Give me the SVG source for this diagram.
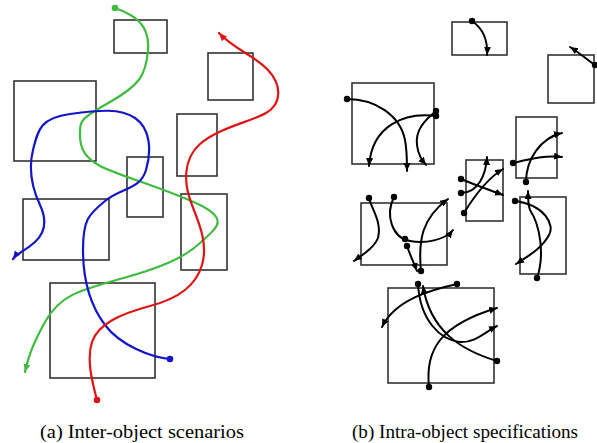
<svg xmlns="http://www.w3.org/2000/svg" width="597" height="443" viewBox="0 0 597 443">
  <style>
    .box { fill: none; stroke: #333; stroke-width: 1.6; }
    .path { fill: none; stroke-width: 2.2; stroke-linecap: round; }
    .g { stroke: #3fbb3f; marker-start: url(#dotG); marker-end: url(#arrG); }
    .b { stroke: #1414c8; marker-start: url(#dotB); marker-end: url(#arrB); }
    .r { stroke: #dd1414; marker-start: url(#dotR); marker-end: url(#arrR); }
    .k { fill: none; stroke: #000; stroke-width: 2; stroke-linecap: round; marker-start: url(#dotK); marker-end: url(#arrK); }
  </style>
  <defs>
    <marker id="arrG" markerUnits="userSpaceOnUse" markerWidth="10" markerHeight="8" refX="8" refY="3.5" orient="auto"><path d="M0,0 L8,3.5 L0,7 z" fill="#3fbb3f"/></marker>
    <marker id="arrB" markerUnits="userSpaceOnUse" markerWidth="10" markerHeight="8" refX="8" refY="3.5" orient="auto"><path d="M0,0 L8,3.5 L0,7 z" fill="#1414c8"/></marker>
    <marker id="arrR" markerUnits="userSpaceOnUse" markerWidth="10" markerHeight="8" refX="8" refY="3.5" orient="auto"><path d="M0,0 L8,3.5 L0,7 z" fill="#dd1414"/></marker>
    <marker id="arrK" markerUnits="userSpaceOnUse" markerWidth="10" markerHeight="8" refX="8" refY="3.5" orient="auto"><path d="M0,0 L8,3.5 L0,7 z" fill="#000"/></marker>
    <marker id="dotG" markerUnits="userSpaceOnUse" markerWidth="8" markerHeight="8" refX="4" refY="4"><circle cx="4" cy="4" r="3.3" fill="#3fbb3f"/></marker>
    <marker id="dotB" markerUnits="userSpaceOnUse" markerWidth="8" markerHeight="8" refX="4" refY="4"><circle cx="4" cy="4" r="3.3" fill="#1414c8"/></marker>
    <marker id="dotR" markerUnits="userSpaceOnUse" markerWidth="8" markerHeight="8" refX="4" refY="4"><circle cx="4" cy="4" r="3.3" fill="#dd1414"/></marker>
    <marker id="dotK" markerUnits="userSpaceOnUse" markerWidth="8" markerHeight="8" refX="4" refY="4"><circle cx="4" cy="4" r="3.2" fill="#000"/></marker>
  </defs>
  <rect width="597" height="443" fill="#fff"/>

  <!-- (a) objects -->
  <g id="a-obj1"><rect class="box" x="114" y="20" width="53" height="33"/></g>
  <g id="a-obj2"><rect class="box" x="14" y="81" width="82" height="80"/></g>
  <g id="a-obj3"><rect class="box" x="127" y="157" width="36" height="60"/></g>
  <g id="a-obj4"><rect class="box" x="23" y="199" width="86" height="61"/></g>
  <g id="a-obj5"><rect class="box" x="50" y="283" width="105" height="95"/></g>
  <g id="a-obj6"><rect class="box" x="177" y="114" width="40" height="62"/></g>
  <g id="a-obj7"><rect class="box" x="208" y="53" width="45" height="47"/></g>
  <g id="a-obj8"><rect class="box" x="181" y="194" width="46" height="76"/></g>

  <!-- (a) scenarios -->
  <g id="a-scenarios">
    <path class="path g" d="M115,8 C135,15 150,25 148,50 S140,85 110,102 S80,120 80,135 S86,158 100,166 S170,190 200,205 S216,228 200,243 S160,268 120,279 S60,295 45,322 S28,360 25,372"/>
    <path class="path b" d="M170,359 C150,357 120,345 105,325 S83,280 83,250 S88,215 105,201 S140,190 146,170 S150,128 135,118 S100,110 70,114 S38,130 33,150 S33,190 40,205 S46,232 35,242 S18,252 13,259"/>
    <path class="path r" d="M97,400 C93,385 86,360 92,342 S120,314 150,306 S196,285 202,265 S200,225 192,205 S182,160 200,144 S250,122 266,113 S282,85 268,70 S235,50 219,33"/>
  </g>

  <!-- (b) objects -->
  <g id="b-obj1"><rect class="box" x="452" y="22" width="55" height="33"/></g>
  <g id="b-obj2"><rect class="box" x="548" y="55" width="46" height="48"/></g>
  <g id="b-obj3"><rect class="box" x="352" y="83" width="82" height="81"/></g>
  <g id="b-obj4"><rect class="box" x="466" y="160" width="37" height="61"/></g>
  <g id="b-obj5"><rect class="box" x="516" y="117" width="41" height="61"/></g>
  <g id="b-obj6"><rect class="box" x="361" y="203" width="86" height="62"/></g>
  <g id="b-obj7"><rect class="box" x="520" y="197" width="46" height="77"/></g>
  <g id="b-obj8"><rect class="box" x="388" y="288" width="106" height="95"/></g>

  <!-- (b) specifications -->
  <g id="b-specs">
    <path class="k" d="M472,21 C482,28 488,40 487,55"/>
    <path class="k" d="M595,65 C585,58 578,52 570,47"/>
    <path class="k" d="M347,99 C375,99 400,115 405,140 C407,150 407,160 407,171"/>
    <path class="k" d="M436,116 C405,112 372,125 369,166"/>
    <path class="k" d="M436,111 C425,120 415,130 417,145 C418,155 422,160 426,165"/>
    <path class="k" d="M461,179 C475,185 490,190 503,195"/>
    <path class="k" d="M461,193 C478,193 486,175 487,157"/>
    <path class="k" d="M464,213 C475,195 488,178 503,169"/>
    <path class="k" d="M513,163 C530,159 545,155 562,157"/>
    <path class="k" d="M526,182 C526,160 540,138 562,133"/>
    <path class="k" d="M537,278 C545,255 540,225 530,210 C528,205 528,198 528,191"/>
    <path class="k" d="M515,201 C545,205 555,225 549,235 C542,248 530,255 516,264"/>
    <path class="k" d="M369,198 C372,210 382,222 378,238 C374,248 362,255 354,261"/>
    <path class="k" d="M394,197 C385,215 392,238 410,241 C425,244 445,240 453,230"/>
    <circle cx="405" cy="239" r="3.2" fill="#000"/>
    <path class="k" d="M407,246 C410,255 414,263 417,271"/>
    <path class="k" d="M421,271 C418,240 422,218 448,199"/>
    <path class="k" d="M457,284 C430,290 395,300 382,327"/>
    <path class="k" d="M429,387 C425,350 440,325 497,308"/>
    <path class="k" d="M418,284 C420,320 440,340 460,342 C475,343 485,332 497,326"/>
    <path class="k" d="M497,361 C460,350 430,330 423,286"/>
  </g>

  <text x="40" y="438" font-family="'Liberation Serif', 'Times New Roman', serif" font-size="19.5" fill="#000" textLength="204" lengthAdjust="spacingAndGlyphs">(a) Inter-object scenarios</text>
  <text x="352" y="438" font-family="'Liberation Serif', 'Times New Roman', serif" font-size="19.5" fill="#000" textLength="226" lengthAdjust="spacingAndGlyphs">(b) Intra-object specifications</text>
</svg>
